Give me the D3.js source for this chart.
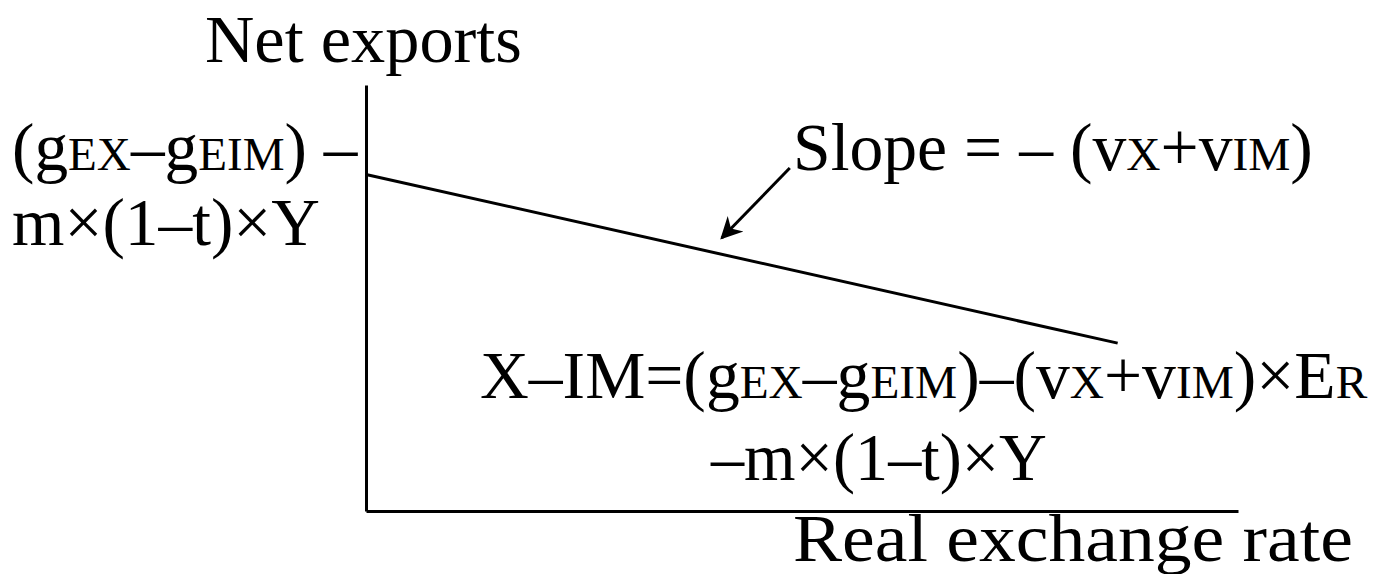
<!DOCTYPE html>
<html>
<head>
<meta charset="utf-8">
<script src="https://cdn.jsdelivr.net/npm/d3@7"></script>
<style>
  html, body { margin: 0; padding: 0; background: #fff; }
  svg { display: block; }
  text { font-family: "Liberation Serif", "Times New Roman", serif; fill: #000; }
</style>
</head>
<body>
<svg id="chart" width="1377" height="574"></svg>
<script>
// ---- data (abstract units) ----
const xDomain = [0, 10];
const yDomain = [0, 10];
const netExportLine = [ {x: 0, y: 7.9}, {x: 8.62, y: 3.94} ];
const slopeArrow = [ {x: 4.86, y: 8.05}, {x: 4.08, y: 6.41} ];
const axisTitleY = "Net exports";
const axisTitleX = "Real exchange rate";
// label segments: [text, isSmall]
const interceptLine1 = [["(g",0],["EX",1],["–g",0],["EIM",1],[") –",0]];
const interceptLine2 = [["m×(1–t)×Y",0]];
const slopeLabel = [["Slope = – (v",0],["X",1],["+v",0],["IM",1],[")",0]];
const eqLine1 = [["X–IM=(g",0],["EX",1],["–g",0],["EIM",1],[")–(v",0],["X",1],["+v",0],["IM",1],[")×E",0],["R",1]];
const eqLine2 = [["–m×(1–t)×Y",0]];

const svg = d3.select("#chart");
const x = d3.scaleLinear().domain(xDomain).range([366, 1238]);
const y = d3.scaleLinear().domain(yDomain).range([511, 85]);

// axes
svg.append("g").attr("transform", `translate(0,${y(0)})`)
  .call(d3.axisBottom(x).ticks(0).tickSize(0).tickSizeOuter(0))
  .call(g => g.select(".domain").attr("stroke", "#000").attr("stroke-width", 3));
svg.append("g").attr("transform", `translate(${x(0)},0)`)
  .call(d3.axisLeft(y).ticks(0).tickSize(0).tickSizeOuter(0))
  .call(g => g.select(".domain").attr("stroke", "#000").attr("stroke-width", 3));

// main line
const line = d3.line().x(d => x(d.x)).y(d => y(d.y));
svg.append("path").datum(netExportLine).attr("d", line)
  .attr("fill", "none").attr("stroke", "#000").attr("stroke-width", 3);

// arrow
const defs = svg.append("defs");
defs.append("marker").attr("id", "ah").attr("viewBox", "0 0 10 10")
  .attr("refX", 9).attr("refY", 5)
  .attr("markerUnits", "userSpaceOnUse").attr("orient", "auto")
  .attr("markerWidth", 26).attr("markerHeight", 22)
  .append("path").attr("d", "M0,0 L10,5 L0,10 L3,5 Z").attr("fill", "#000");
svg.append("path").datum(slopeArrow).attr("d", line)
  .attr("fill", "none").attr("stroke", "#000").attr("stroke-width", 3)
  .attr("marker-end", "url(#ah)");

// text helper: draws segments, then stretches horizontally to target width
const FS = 67, SMALL = 0.7;
function label(segs, px, py, targetW) {
  const g = svg.append("g");
  const t = g.append("text").attr("x", 0).attr("y", 0).attr("font-size", FS);
  segs.forEach(([s, small]) => {
    t.append("tspan").attr("font-size", small ? FS * SMALL : FS).text(s);
  });
  const bb = t.node().getBBox();
  const sx = targetW / bb.width;
  g.attr("transform", `translate(${px - bb.x * sx},${py}) scale(${sx},1)`);
  return g;
}

label([[axisTitleY,0]], 205, 62, 317);
label(interceptLine1, 12, 170, 346);
label(interceptLine2, 12, 245, 308);
label(slopeLabel, 793, 170, 520);
label(eqLine1, 480, 398, 888);
label(eqLine2, 710, 480, 337);
label([[axisTitleX,0]], 793, 561, 560);
</script>
</body>
</html>
